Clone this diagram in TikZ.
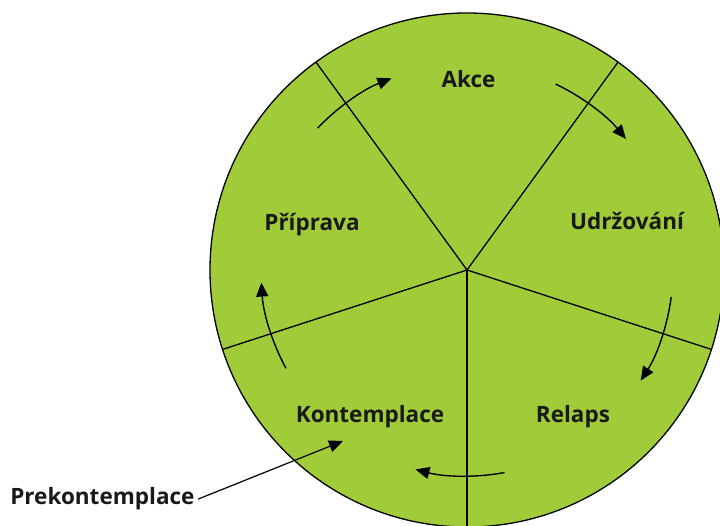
\documentclass[tikz,border=0pt]{standalone}
\usepackage{fontspec}
\setmainfont{Open Sans}
\usetikzlibrary{arrows.meta}

\definecolor{stagegreen}{RGB}{161,204,58}

\tikzset{%
  stage/.style={anchor=base, font=\fontsize{22.5}{26}\selectfont\bfseries, text=black!90},
  divider/.style={draw, line width=1.3pt, color=black},
  cycle/.style={draw, line width=1.4pt, color=black, -{Triangle[length=14pt,width=12pt]}},
  pointer/.style={draw, line width=1.2pt, color=black, -{Triangle[length=14pt,width=12pt]}},
}

\begin{document}
\begin{tikzpicture}[x=1pt, y=1pt]
\useasboundingbox (-467,-256) rectangle (253,270);
\coordinate (c) at (0,0);
\fill[stagegreen] (c) circle (257);
% the five sectors
\foreach \b in {126,54,-18,-90,198}
  \draw[divider] (c) -- (\b:257);
\draw[line width=1.3pt] (c) circle (257);
% cycle arrows
\foreach \b in {126,54,-18,-90,198}
  \draw[cycle] (\b+10.5:206) arc[start angle=\b+10.5, end angle=\b-14.5, radius=206];
\node[stage] (akce) at (1.5,182) {Akce};
\node[stage] (udrz) at (160,40) {Udržování};
\node[stage] (relaps) at (106,-153) {Relaps};
\node[stage] (kont) at (-97,-153) {Kontemplace};
\node[stage] (prip) at (-155,39) {Příprava};
\node[stage, anchor=base east] (prek) at (-269,-235) {Prekontemplace};
\coordinate (kontin) at (-124,-171);
\draw[pointer] (prek.east) -- (kontin);
\end{tikzpicture}
\end{document}
